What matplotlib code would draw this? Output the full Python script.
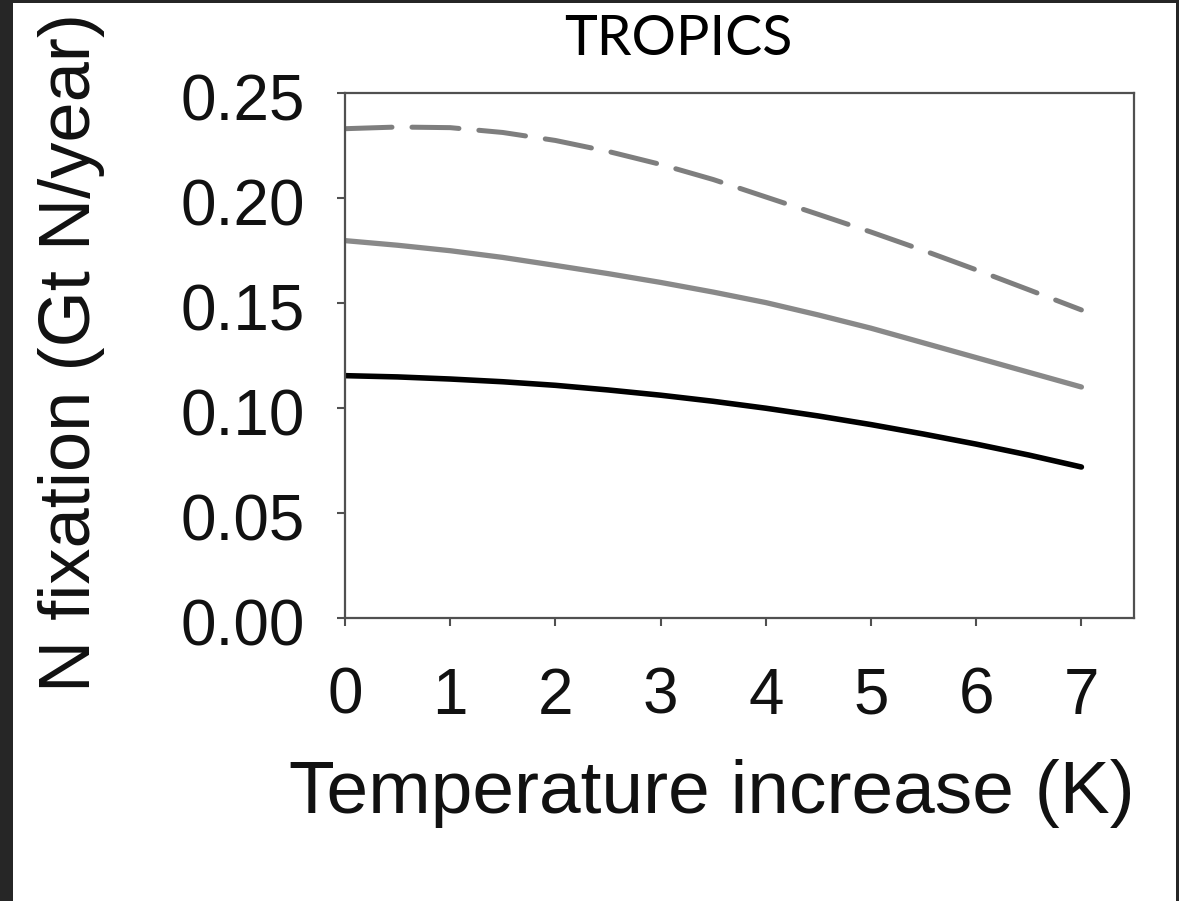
import matplotlib
matplotlib.use("Agg")
import matplotlib.pyplot as plt
import matplotlib.transforms as mtransforms
from matplotlib.patches import Rectangle

# ---- data ----
temp = [0, 0.5, 1, 1.5, 2, 2.5, 3, 3.5, 4, 4.5, 5, 5.5, 6, 6.5, 7]
dashed_gray = [0.2330, 0.2338, 0.2335, 0.2312, 0.2274, 0.2222, 0.2160, 0.2088,
               0.2005, 0.1922, 0.1838, 0.1750, 0.1658, 0.1563, 0.1467]
solid_gray = [0.1797, 0.1775, 0.1749, 0.1717, 0.1679, 0.1640, 0.1598, 0.1552,
              0.1502, 0.1443, 0.1380, 0.1310, 0.1240, 0.1170, 0.1100]
solid_black = [0.1154, 0.1148, 0.1138, 0.1125, 0.1108, 0.1086, 0.1061, 0.1032,
               0.0999, 0.0962, 0.0921, 0.0876, 0.0828, 0.0776, 0.0719]
xticks = [0, 1, 2, 3, 4, 5, 6, 7]
yticks = [0.00, 0.05, 0.10, 0.15, 0.20, 0.25]
ytick_labels = ["0.00", "0.05", "0.10", "0.15", "0.20", "0.25"]
title = "TROPICS"
xlabel = "Temperature increase (K)"
ylabel = "N fixation (Gt N/year)"

W, H = 1179, 901
fig = plt.figure(figsize=(W / 100, H / 100), dpi=100)
fig.patch.set_facecolor("#262626")
fig.patches.append(Rectangle((13 / W, 0), (1176 - 13) / W, (H - 3) / H,
                             transform=fig.transFigure, facecolor="white",
                             edgecolor="none", zorder=-10))

ax = fig.add_axes([345 / W, 1 - 618 / H, (1134 - 345) / W, (618 - 93) / H])
ax.set_facecolor("white")
ax.set_zorder(1)

ax.plot(temp, dashed_gray, color="#7e7e7e", lw=3.6, linestyle=(0, (9.4, 4.0)),
        dash_capstyle="round")
ax.plot(temp, solid_gray, color="#898989", lw=3.8, solid_capstyle="round")
ax.plot(temp, solid_black, color="black", lw=4.0, solid_capstyle="round")

ax.set_xlim(0, 7.5)
ax.set_ylim(0, 0.25)
ax.set_xticks(xticks)
ax.set_yticks(yticks)
ax.set_yticklabels(ytick_labels)

for s in ax.spines.values():
    s.set_color("#505050")
    s.set_linewidth(1.6)
ax.tick_params(direction="out", length=6, width=1.5, color="#505050",
               labelsize=46, labelcolor="#111111", labelfontfamily="Liberation Sans")
ax.tick_params(axis="x", pad=29)
ax.tick_params(axis="y", pad=23)

offset = mtransforms.ScaledTranslation(0, -4 / 100, fig.dpi_scale_trans)
for lab in ax.get_yticklabels():
    lab.set_transform(lab.get_transform() + offset)

fig.text(712 / W, 1 - 813 / H, xlabel, fontsize=54, family="Liberation Sans",
         color="#111111", ha="center", va="baseline")
fig.text(72 / W, 1 - 352 / H, ylabel, rotation=90, fontsize=52,
         family="Liberation Sans", color="#111111", ha="center", va="center")

fig.text(678 / W, 1 - 55 / H, title, fontsize=40, family="Lato",
         ha="center", va="baseline", color="black")

fig.savefig("out.png", dpi=100, facecolor=fig.get_facecolor())
